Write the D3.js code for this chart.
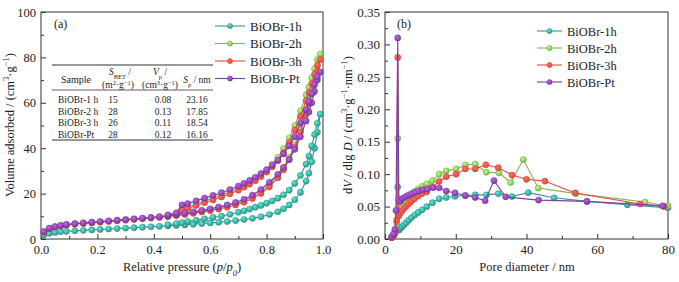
<!DOCTYPE html>
<html>
<head>
<meta charset="utf-8">
<script src="https://cdn.jsdelivr.net/npm/d3@7"></script>
<style>
  body { margin: 0; background: #fff; }
  svg text { font-family: "Liberation Serif", "Times New Roman", serif; fill: #222; }
</style>
</head>
<body>
<div id="chart"></div>
<script>
const FONT = "'Liberation Serif', 'Times New Roman', serif";

// series names and colours
const names = ["BiOBr-1h", "BiOBr-2h", "BiOBr-3h", "BiOBr-Pt"];
const colors = ["#33968b", "#79b84c", "#e8463e", "#7b3c9c"];

// (a) N2 isotherms: relative pressure, adsorption then desorption branch
const pAds = [0.01,0.03,0.05,0.07,0.09,0.12,0.15,0.18,0.21,0.24,0.27,0.30,0.33,0.36,0.39,0.42,0.45,0.48,0.51,0.54,0.57,0.60,0.63,0.66,0.69,0.72,0.75,0.78,0.81,0.84,0.86,0.88,0.90,0.92,0.94,0.95,0.96,0.97,0.98,0.99];
const pDes = [0.98,0.97,0.96,0.95,0.94,0.92,0.90,0.88,0.86,0.84,0.82,0.80,0.78,0.76,0.74,0.72,0.70,0.67,0.64,0.61,0.58,0.55,0.52,0.50,0.48,0.45];

const ads1h = [1.8,2.5,2.9,3.2,3.4,3.6,3.8,4.0,4.2,4.4,4.6,4.8,5.0,5.2,5.4,5.6,5.8,6.0,6.2,6.5,6.8,7.1,7.4,7.7,8.1,8.6,9.1,9.8,10.8,12.0,13.3,15.0,17.3,20.5,25.5,29,34,40,47,55];
const des1h = [51,46,41,36.5,33,28,24.5,21.5,19.5,18,16.8,15.8,14.8,14,13.2,12.4,11.8,10.9,10.1,9.5,8.9,8.3,7.7,7.2,6.8,6.3];
const ads2h = [3.2,4.7,5.4,5.9,6.3,6.7,7.0,7.3,7.6,7.9,8.2,8.5,8.8,9.1,9.4,9.7,10.1,10.5,11.0,11.6,12.2,12.9,13.7,14.6,15.6,16.9,18.6,20.9,24.0,28.0,31.5,36,41.5,48,56.5,61,66,71,76,81.5];
const des2h = [79,75,71,67,63.5,56.5,50,44.5,39.8,36,33,30.6,28.6,26.8,25.2,23.8,22.5,20.8,19.3,18.0,16.7,15.5,14.2,13.5,10.8,10.3];
const ads3h = [3.0,4.5,5.2,5.7,6.1,6.5,6.8,7.1,7.4,7.7,8.0,8.3,8.6,8.9,9.2,9.5,9.9,10.3,10.8,11.3,11.9,12.5,13.2,14.0,15.0,16.2,17.8,20.0,23.0,27.0,30.5,35,40.5,47,55,59.5,64,69,74,79];
const des3h = [76.5,72.5,68.5,64.5,61,54,48,42.5,38,34.5,31.8,29.5,27.5,25.7,24.2,22.8,21.5,19.9,18.5,17.2,16.0,14.8,13.5,12.8,10.5,10.0];
const adsPt = [3.3,4.8,5.5,6.0,6.4,6.8,7.1,7.4,7.7,8.0,8.3,8.6,8.9,9.2,9.5,9.9,10.3,10.8,11.4,12.0,12.6,13.3,14.1,15.0,16.1,17.5,19.3,21.8,25.0,28.5,31.5,35,39.5,45,52,56,60,65,70,73.5];
const desPt = [71.5,68,64,60.5,57,51,45,41,37.5,34.8,32.5,30.5,28.8,27.2,25.8,24.5,23.3,21.8,20.4,19.2,18.0,16.8,15.6,15.0,11.5,10.6];

// (b) pore size distribution
const d1h = [1.9,2.5,3.0,3.6,4.0,4.4,4.9,5.4,6.0,6.7,7.5,8.4,9.4,10.5,11.8,13.4,15.3,17.3,19.8,22.7,25.5,28.7,32.0,35.9,40.5,47.8,57.1,68.5,80];
const v1h = [0.002,0.005,0.010,0.080,0.014,0.017,0.019,0.022,0.025,0.029,0.033,0.037,0.041,0.045,0.050,0.056,0.062,0.064,0.066,0.067,0.068,0.068,0.070,0.0655,0.0715,0.0635,0.058,0.0527,0.048];
const d2h = [1.9,2.5,3.0,3.3,3.6,3.9,4.3,4.8,5.3,5.9,6.6,7.4,8.3,9.3,10.5,11.8,13.4,15.3,17.3,20.1,22.7,25.5,28.6,32.2,35.5,39.1,43.3,54.0,73.5,80];
const v2h = [0.003,0.007,0.014,0.026,0.155,0.038,0.043,0.048,0.053,0.058,0.063,0.068,0.073,0.077,0.081,0.085,0.090,0.100,0.105,0.108,0.114,0.1156,0.103,0.102,0.087,0.1225,0.0785,0.070,0.057,0.051];
const d3h = [1.9,2.5,3.0,3.3,3.6,3.9,4.3,4.8,5.3,5.9,6.6,7.4,8.3,9.3,10.5,11.8,13.4,15.3,17.3,20.1,22.7,25.5,28.5,32.0,35.9,40.0,45.2,53.7,72.1,79];
const v3h = [0.002,0.006,0.012,0.029,0.280,0.036,0.040,0.043,0.047,0.050,0.054,0.058,0.062,0.066,0.070,0.073,0.080,0.089,0.096,0.100,0.108,0.108,0.1145,0.110,0.0986,0.092,0.0893,0.071,0.054,0.050];
const dPt = [1.9,2.4,2.8,3.1,3.6,3.9,4.3,4.8,5.4,6.1,6.8,7.6,8.5,9.5,10.7,12.0,13.6,15.3,17.3,19.8,22.7,25.5,28.3,30.8,34.1,43.4,57.1,78.5];
const vPt = [0.004,0.008,0.015,0.044,0.310,0.061,0.058,0.062,0.064,0.066,0.068,0.070,0.072,0.074,0.076,0.077,0.079,0.079,0.074,0.071,0.067,0.064,0.059,0.090,0.065,0.060,0.058,0.051];

// table inside (a)
const tableSamples = ["BiOBr-1 h", "BiOBr-2 h", "BiOBr-3 h", "BiOBr-Pt"];
const tableSbet = ["15", "28", "26", "28"];
const tableVp = ["0.08", "0.13", "0.11", "0.12"];
const tableSp = ["23.16", "17.85", "18.54", "16.16"];

// tick values
const ticksA_x = [0, 0.2, 0.4, 0.6, 0.8, 1.0];
const ticksA_y = [0, 20, 40, 60, 80, 100];
const ticksB_x = [0, 20, 40, 60, 80];
const ticksB_y = [0, 0.05, 0.10, 0.15, 0.20, 0.25, 0.30, 0.35];

const W = 679, H = 282;
const svg = d3.select("#chart").append("svg").attr("width", W).attr("height", H)
  .attr("font-family", FONT);

// ball-like markers
const defs = svg.append("defs");
colors.forEach((c, i) => {
  const g = defs.append("radialGradient").attr("id", "ball" + i)
    .attr("cx", "38%").attr("cy", "35%").attr("r", "65%");
  g.append("stop").attr("offset", "0%").attr("stop-color", d3.color(c).brighter(1.3));
  g.append("stop").attr("offset", "100%").attr("stop-color", c);
});

function panel(x0, x1, y0, y1, xDom, yDom, xt, yt, xMinor, yMinor, xFmt, yFmt, fs) {
  const x = d3.scaleLinear().domain(xDom).range([x0, x1]);
  const y = d3.scaleLinear().domain(yDom).range([y1, y0]);
  const g = svg.append("g");

  // minor ticks, inward
  g.append("g").attr("transform", `translate(0,${y1})`)
    .call(d3.axisBottom(x).tickValues(xMinor).tickSize(-3).tickFormat(""))
    .call(a => a.select(".domain").remove());
  g.append("g").attr("transform", `translate(${x0},0)`)
    .call(d3.axisLeft(y).tickValues(yMinor).tickSize(-3).tickFormat(""))
    .call(a => a.select(".domain").remove());

  // major ticks + labels
  g.append("g").attr("transform", `translate(0,${y1})`)
    .call(d3.axisBottom(x).tickValues(xt).tickSize(-5).tickPadding(6).tickFormat(xFmt))
    .call(a => a.select(".domain").remove())
    .attr("font-family", FONT).attr("font-size", fs);
  g.append("g").attr("transform", `translate(${x0},0)`)
    .call(d3.axisLeft(y).tickValues(yt).tickSize(-5).tickPadding(5).tickFormat(yFmt))
    .call(a => a.select(".domain").remove())
    .attr("font-family", FONT).attr("font-size", fs);

  g.selectAll("g").attr("font-family", FONT);
  g.selectAll(".tick line").attr("stroke", "#333");
  g.selectAll(".tick text").attr("fill", "#222");

  g.append("rect").attr("x", x0).attr("y", y0)
    .attr("width", x1 - x0).attr("height", y1 - y0)
    .attr("fill", "none").attr("stroke", "#333").attr("stroke-width", 1);
  return { x, y, g };
}

function drawSeries(p, xs, ys, i) {
  const pts = xs.map((v, k) => [v, ys[k]]);
  const line = d3.line().x(d => p.x(d[0])).y(d => p.y(d[1]));
  p.g.append("path").datum(pts).attr("d", line)
    .attr("fill", "none").attr("stroke", colors[i]).attr("stroke-width", 1.1);
  p.g.append("g").selectAll("circle").data(pts).join("circle")
    .attr("cx", d => p.x(d[0])).attr("cy", d => p.y(d[1])).attr("r", 3.1)
    .attr("fill", `url(#ball${i})`)
    .attr("stroke", d3.color(colors[i]).darker(0.4)).attr("stroke-width", 0.4);
}

function legend(x, y, step, len, size) {
  names.forEach((n, i) => {
    const yy = y + i * step;
    svg.append("line").attr("x1", x).attr("x2", x + len).attr("y1", yy).attr("y2", yy)
      .attr("stroke", colors[i]).attr("stroke-width", 1.1);
    svg.append("circle").attr("cx", x + len / 2).attr("cy", yy).attr("r", 2.6)
      .attr("fill", `url(#ball${i})`)
      .attr("stroke", d3.color(colors[i]).darker(0.4)).attr("stroke-width", 0.4);
    svg.append("text").attr("x", x + len + 5).attr("y", yy + 4.5)
      .attr("font-size", size).text(n);
  });
}

// helper for text with super/subscripts: parts = [[text, shift, italic]]
function rich(sel, parts, size) {
  parts.forEach(([t, shift, it]) => {
    const ts = sel.append("tspan").text(t);
    if (it) ts.attr("font-style", "italic");
    if (shift) ts.attr("baseline-shift", shift).attr("font-size", size * 0.68);
  });
  return sel;
}

// ---------- panel (a) ----------
const pa = panel(41, 323, 12, 239, [0, 1], [0, 100], ticksA_x, ticksA_y,
  [0.1, 0.3, 0.5, 0.7, 0.9], [10, 30, 50, 70, 90], d3.format(".1f"), d3.format("d"), 12.5);

const adsList = [ads1h, ads2h, ads3h, adsPt];
const desList = [des1h, des2h, des3h, desPt];
adsList.forEach((a, i) => drawSeries(pa, pAds.concat(pDes), a.concat(desList[i]), i));

svg.append("text").attr("x", 54).attr("y", 28).attr("font-size", 12).text("(a)");
legend(215, 26, 17.5, 30, 13);

rich(svg.append("text").attr("x", 182).attr("y", 271).attr("text-anchor", "middle").attr("font-size", 12.5),
  [["Relative pressure ("], ["p", null, true], ["/"], ["p", null, true], ["0", "sub", true], [")"]], 12.5);

rich(svg.append("text").attr("transform", "translate(14,125) rotate(-90)")
  .attr("text-anchor", "middle").attr("font-size", 12.5),
  [["Volume adsorbed / (cm"], ["3", "super"], ["·g"], ["−1", "super"], [")"]], 12.5);

// table
const tb = svg.append("g").attr("font-size", 9.5);
const colX = [76, 118, 160, 197];
svg.append("line").attr("x1", 52).attr("x2", 213).attr("y1", 65).attr("y2", 65).attr("stroke", "#333").attr("stroke-width", 1);
svg.append("line").attr("x1", 52).attr("x2", 213).attr("y1", 90).attr("y2", 90).attr("stroke", "#333").attr("stroke-width", 0.8);
svg.append("line").attr("x1", 52).attr("x2", 213).attr("y1", 140).attr("y2", 140).attr("stroke", "#333").attr("stroke-width", 1);
tb.append("text").attr("x", colX[0]).attr("y", 83).attr("text-anchor", "middle").attr("font-size", 10).text("Sample");
rich(tb.append("text").attr("x", colX[1] + 2).attr("y", 75).attr("text-anchor", "middle"),
  [["S", null, true], ["BET", "sub"], [" /"]], 9.5);
rich(tb.append("text").attr("x", colX[1]).attr("y", 88).attr("text-anchor", "middle"),
  [["(m"], ["2", "super"], ["·g"], ["−1", "super"], [")"]], 9.5);
rich(tb.append("text").attr("x", colX[2]).attr("y", 75).attr("text-anchor", "middle"),
  [["V", null, true], ["p", "sub"], [" /"]], 9.5);
rich(tb.append("text").attr("x", colX[2]).attr("y", 88).attr("text-anchor", "middle"),
  [["(cm"], ["3", "super"], ["·g"], ["−1", "super"], [")"]], 9.5);
rich(tb.append("text").attr("x", colX[3]).attr("y", 83).attr("text-anchor", "middle"),
  [["S", null, true], ["p", "sub"], [" / nm"]], 9.5);
tableSamples.forEach((s, r) => {
  const yy = 103 + r * 11.7;
  tb.append("text").attr("x", 58).attr("y", yy).text(s);
  tb.append("text").attr("x", colX[1] - 5).attr("y", yy).attr("text-anchor", "middle").text(tableSbet[r]);
  tb.append("text").attr("x", colX[2] + 3).attr("y", yy).attr("text-anchor", "middle").text(tableVp[r]);
  tb.append("text").attr("x", colX[3]).attr("y", yy).attr("text-anchor", "middle").text(tableSp[r]);
});

// ---------- panel (b) ----------
const pb = panel(385, 668, 12, 239, [0, 80], [0, 0.35], ticksB_x, ticksB_y,
  [10, 30, 50, 70], [0.025, 0.075, 0.125, 0.175, 0.225, 0.275, 0.325], d3.format("d"), d3.format(".2f"), 13);

const dList = [d1h, d2h, d3h, dPt];
const vList = [v1h, v2h, v3h, vPt];
dList.forEach((d, i) => drawSeries(pb, d, vList[i], i));

svg.append("text").attr("x", 397).attr("y", 28).attr("font-size", 12).text("(b)");
legend(537, 31, 17, 25, 12.5);

svg.append("text").attr("x", 527).attr("y", 271).attr("text-anchor", "middle")
  .attr("font-size", 12.5).text("Pore diameter / nm");

rich(svg.append("text").attr("transform", "translate(352,125) rotate(-90)")
  .attr("text-anchor", "middle").attr("font-size", 12.5),
  [["d"], ["V", null, true], [" / dlg "], ["D", null, true], [" / (cm"], ["3", "super"], ["·g"], ["−1", "super"], ["·nm"], ["−1", "super"], [")"]], 12.5);
</script>
</body>
</html>
